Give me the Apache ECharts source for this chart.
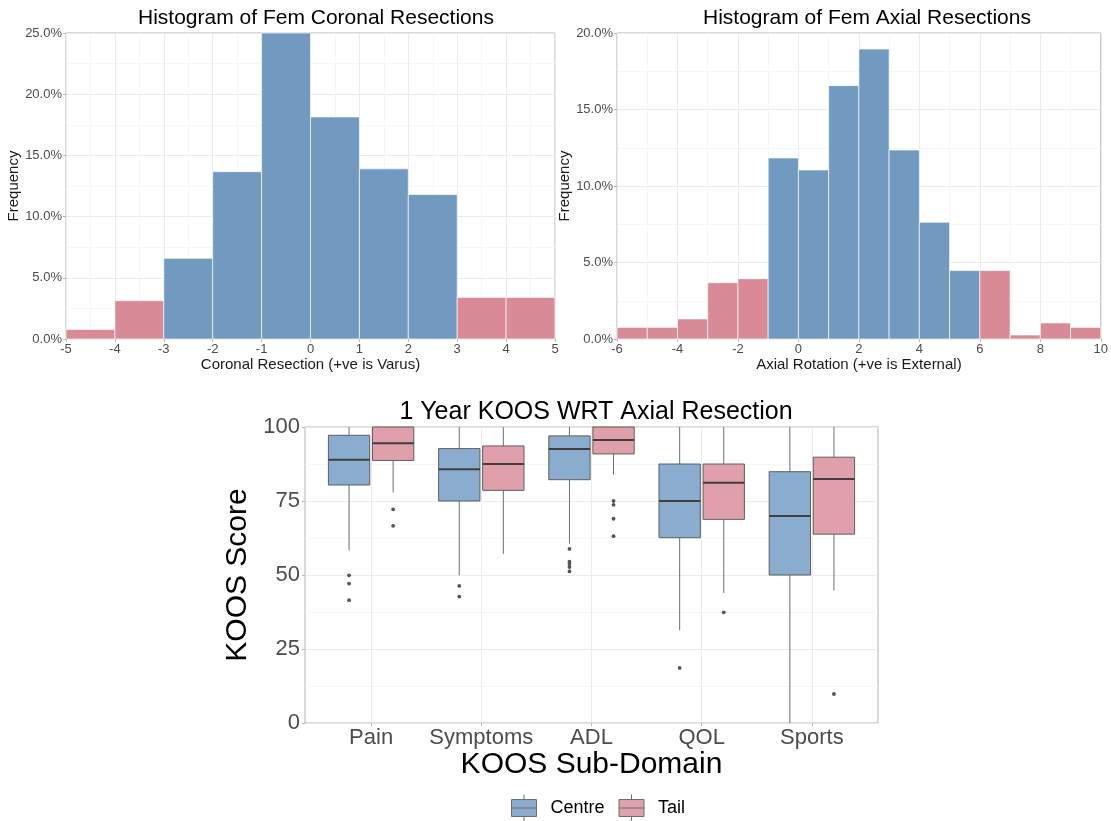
<!DOCTYPE html>
<html>
<head>
<meta charset="utf-8">
<script src="https://cdn.jsdelivr.net/npm/echarts@6/dist/echarts.min.js"></script>
<style>
html,body{margin:0;padding:0;background:#fff;}
#chart{width:1111px;height:821px;}
</style>
</head>
<body>
<div id="chart"></div>
<script>
// ---------- DATA ----------
var coronalBinStarts = [-5, -4, -3, -2, -1, 0, 1, 2, 3, 4];
var coronalFreq      = [0.78, 3.13, 6.59, 13.67, 25.0, 18.14, 13.9, 11.8, 3.4, 3.4];
var coronalGroup     = ['Tail','Tail','Centre','Centre','Centre','Centre','Centre','Centre','Tail','Tail'];

var axialBinStarts = [-6, -5, -4, -3, -2, -1, 0, 1, 2, 3, 4, 5, 6, 7, 8, 9];
var axialFreq      = [0.76, 0.76, 1.31, 3.68, 3.94, 11.83, 11.05, 16.56, 18.95, 12.35, 7.63, 4.47, 4.47, 0.26, 1.05, 0.76];
var axialGroup     = ['Tail','Tail','Tail','Tail','Tail','Centre','Centre','Centre','Centre','Centre','Centre','Centre','Tail','Tail','Tail','Tail'];

var koosDomains = ['Pain', 'Symptoms', 'ADL', 'QOL', 'Sports'];
// [lower whisker, Q1, median, Q3, upper whisker]
var centreStats = [
  [58.2, 80.4, 88.9, 97.2, 100],
  [49.9, 75.0, 85.7, 92.7, 100],
  [60.6, 82.2, 92.6, 97.0, 100],
  [31.3, 62.6, 75.0, 87.5, 100],
  [0.0, 50.0, 69.9, 84.9, 100]
];
var tailStats = [
  [77.9, 88.7, 94.5, 100, 100],
  [57.1, 78.6, 87.5, 93.6, 100],
  [83.9, 90.9, 95.6, 100, 100],
  [43.9, 68.8, 81.2, 87.5, 100],
  [44.8, 63.8, 82.4, 89.8, 100]
];
// [domain index, value]
var centreOutliers = [[0,49.9],[0,47.1],[0,41.5],[1,46.3],[1,42.7],[2,58.8],[2,54.5],[2,53.7],[2,52.7],[2,51.2],[3,18.6]];
var tailOutliers   = [[0,72.2],[0,66.6],[2,75.0],[2,73.7],[2,69.0],[2,63.1],[3,37.4],[4,9.8]];

// ---------- STYLE ----------
var HIST_BLUE = '#7299c0', HIST_PINK = '#d88a96';
var BOX_BLUE = '#8aacce', BOX_PINK = '#e0a0ab';
var FONT = 'Liberation Sans, Arial, sans-serif';
var GRID_MAJOR = '#ebebeb', GRID_MINOR = '#f6f6f6', FRAME = '#b3b3b3', TICKTXT = '#4d4d4d';

function histData(starts, freq, groups){
  return starts.map(function(s, i){ return [s, s + 1, freq[i], groups[i] === 'Tail' ? 1 : 0]; });
}
function histRender(params, api){
  var p0 = api.coord([api.value(0), api.value(2)]);
  var p1 = api.coord([api.value(1), 0]);
  return {type:'rect',
    shape:{x:p0[0], y:p0[1], width:p1[0]-p0[0], height:p1[1]-p0[1]},
    style:{fill: api.value(3) ? HIST_PINK : HIST_BLUE, stroke:'rgba(255,255,255,0.65)', lineWidth:1}};
}
function boxData(stats){ return stats.map(function(s, i){ return [i].concat(s); }); }
function boxRender(offset, fill){
  return function(params, api){
    var i = api.value(0);
    var unit = api.coord([1, 0])[0] - api.coord([0, 0])[0];
    var cx = api.coord([i, 0])[0] + offset * unit;
    var hw = 0.1875 * unit;
    var yMin = api.coord([i, api.value(1)])[1];
    var yQ1 = api.coord([i, api.value(2)])[1];
    var yMed = api.coord([i, api.value(3)])[1];
    var yQ3 = api.coord([i, api.value(4)])[1];
    var yMax = api.coord([i, api.value(5)])[1];
    return {type:'group', children:[
      {type:'line', shape:{x1:cx, y1:yMax, x2:cx, y2:yQ3}, style:{stroke:'#6e6e6e', lineWidth:1}},
      {type:'line', shape:{x1:cx, y1:yQ1, x2:cx, y2:yMin}, style:{stroke:'#6e6e6e', lineWidth:1}},
      {type:'rect', shape:{x:cx-hw, y:yQ3, width:2*hw, height:yQ1-yQ3}, style:{fill:fill, stroke:'#5f5f5f', lineWidth:1}},
      {type:'line', shape:{x1:cx-hw, y1:yMed, x2:cx+hw, y2:yMed}, style:{stroke:'#3f3f3f', lineWidth:2}}
    ]};
  };
}
function outlierRender(offset){
  return function(params, api){
    var i = api.value(0);
    var unit = api.coord([1, 0])[0] - api.coord([0, 0])[0];
    var p = api.coord([i, api.value(1)]);
    return {type:'circle', shape:{cx:p[0] + offset*unit, cy:p[1], r:1.9}, style:{fill:'#555'}};
  };
}
function pct(v){ return v.toFixed(1) + '%'; }

function histX(gridIndex, min, max, interval, name){
  return {gridIndex:gridIndex, type:'value', min:min, max:max, interval:interval,
    name:name, nameLocation:'middle', nameGap:13,
    nameTextStyle:{fontSize:15, color:'#1a1a1a', fontFamily:FONT},
    axisLine:{show:false, onZero:false}, axisTick:{show:true, length:3, lineStyle:{color:FRAME}},
    axisLabel:{fontSize:13, color:TICKTXT, margin:4, fontFamily:FONT},
    splitLine:{show:true, lineStyle:{color:GRID_MAJOR}},
    minorTick:{show:false, splitNumber:2},
    minorSplitLine:{show:true, lineStyle:{color:GRID_MINOR}}};
}
function histY(gridIndex, max){
  return {gridIndex:gridIndex, type:'value', min:0, max:max, interval:5,
    name:'Frequency', nameLocation:'middle', nameGap:36,
    nameTextStyle:{fontSize:15, color:'#1a1a1a', fontFamily:FONT},
    axisLine:{show:false, onZero:false}, axisTick:{show:true, length:3, lineStyle:{color:FRAME}},
    axisLabel:{fontSize:13, color:TICKTXT, margin:4, formatter:pct, fontFamily:FONT},
    splitLine:{show:true, lineStyle:{color:GRID_MAJOR}},
    minorTick:{show:false, splitNumber:2},
    minorSplitLine:{show:true, lineStyle:{color:GRID_MINOR}}};
}

var chart = echarts.init(document.getElementById('chart'));
chart.setOption({
  backgroundColor:'#ffffff',
  animation:false,
  textStyle:{fontFamily:FONT},
  title:[
    {text:'Histogram of Fem Coronal Resections', left:311, top:3, textAlign:'center',
     textStyle:{fontSize:21, fontWeight:'normal', color:'#000', fontFamily:FONT}},
    {text:'Histogram of Fem Axial Resections', left:862, top:3, textAlign:'center',
     textStyle:{fontSize:21, fontWeight:'normal', color:'#000', fontFamily:FONT}},
    {text:'1 Year KOOS WRT Axial Resection', left:591, top:395, textAlign:'center',
     textStyle:{fontSize:25, fontWeight:'normal', color:'#000', fontFamily:FONT}}
  ],
  grid:[
    {left:66, top:33, width:489, height:306, show:true, borderColor:FRAME, borderWidth:1},
    {left:617, top:33, width:490, height:306, show:true, borderColor:FRAME, borderWidth:1},
    {left:305, top:427, width:573, height:296, show:true, borderColor:FRAME, borderWidth:1},
    {left:371.1, top:427, width:440.8, height:296}
  ],
  xAxis:[
    histX(0, -5, 5, 1, 'Coronal Resection (+ve is Varus)'),
    histX(1, -6, 10, 2, 'Axial Rotation (+ve is External)'),
    {gridIndex:2, type:'value', min:0, max:1, show:false, splitLine:{show:false}},
    {gridIndex:3, type:'category', data:koosDomains, boundaryGap:false,
     name:'KOOS Sub-Domain', nameLocation:'middle', nameGap:24,
     nameTextStyle:{fontSize:30, color:'#000', fontFamily:FONT},
     axisLine:{show:false, onZero:false}, axisTick:{show:true, length:3, interval:0, lineStyle:{color:FRAME}},
     axisLabel:{fontSize:22, color:TICKTXT, margin:4, interval:0, fontFamily:FONT},
     splitLine:{show:true, interval:0, lineStyle:{color:GRID_MAJOR}}}
  ],
  yAxis:[
    histY(0, 25),
    histY(1, 20),
    {gridIndex:2, type:'value', min:0, max:100, interval:25,
     name:'KOOS Score', nameLocation:'middle', nameGap:45,
     nameTextStyle:{fontSize:30, color:'#000', fontFamily:FONT},
     axisLine:{show:false, onZero:false}, axisTick:{show:true, length:3, lineStyle:{color:FRAME}},
     axisLabel:{fontSize:22, color:TICKTXT, margin:5, fontFamily:FONT},
     splitLine:{show:true, lineStyle:{color:GRID_MAJOR}},
     minorTick:{show:false, splitNumber:2},
     minorSplitLine:{show:true, lineStyle:{color:GRID_MINOR}}},
    {gridIndex:3, type:'value', min:0, max:100, show:false, splitLine:{show:false}, axisLine:{onZero:false}}
  ],
  legend:{
    data:['Centre','Tail'], left:506, top:789, orient:'horizontal',
    itemWidth:25, itemHeight:27, itemGap:14,
    icon:'path://M0,5 L25,5 L25,22 L0,22 Z M0,13.5 L25,13.5 M12.5,0 L12.5,5 M12.5,22 L12.5,27',
    itemStyle:{borderColor:'#6e6e6e', borderWidth:1},
    textStyle:{fontSize:18, color:'#000', fontFamily:FONT, padding:[0, 0, 0, 9]}
  },
  series:[
    {type:'custom', name:'Coronal', xAxisIndex:0, yAxisIndex:0, renderItem:histRender,
     encode:{x:[0,1], y:2}, data:histData(coronalBinStarts, coronalFreq, coronalGroup)},
    {type:'custom', name:'Axial', xAxisIndex:1, yAxisIndex:1, renderItem:histRender,
     encode:{x:[0,1], y:2}, data:histData(axialBinStarts, axialFreq, axialGroup)},
    {type:'custom', name:'Centre', xAxisIndex:3, yAxisIndex:3, renderItem:boxRender(-0.2, BOX_BLUE),
     itemStyle:{color:BOX_BLUE}, encode:{x:0, y:[1,2,3,4,5]}, data:boxData(centreStats)},
    {type:'custom', name:'Tail', xAxisIndex:3, yAxisIndex:3, renderItem:boxRender(0.2, BOX_PINK),
     itemStyle:{color:BOX_PINK}, encode:{x:0, y:[1,2,3,4,5]}, data:boxData(tailStats)},
    {type:'custom', name:'Centre outliers', xAxisIndex:3, yAxisIndex:3, renderItem:outlierRender(-0.2),
     encode:{x:0, y:1}, data:centreOutliers},
    {type:'custom', name:'Tail outliers', xAxisIndex:3, yAxisIndex:3, renderItem:outlierRender(0.2),
     encode:{x:0, y:1}, data:tailOutliers}
  ]
});
</script>
</body>
</html>
